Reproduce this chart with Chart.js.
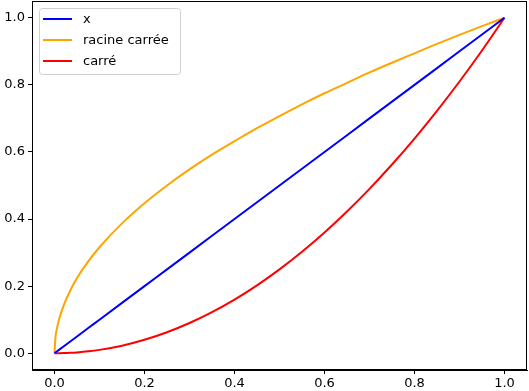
<!DOCTYPE html>
<html>
<head>
<meta charset="utf-8">
<script src="https://cdn.jsdelivr.net/npm/chart.js@4/dist/chart.umd.min.js"></script>
<style>
  html, body { margin: 0; padding: 0; background: #fff; }
  #wrap { width: 529px; height: 391px; }
</style>
</head>
<body>
<div id="wrap"><canvas id="grafico" width="529" height="391"></canvas></div>
<script>
// valeurs
const abscisses = [0, 0.002, 0.005, 0.01, 0.02, 0.035, 0.05, 0.075, 0.1, 0.15, 0.2, 0.25, 0.3, 0.35, 0.4, 0.45, 0.5, 0.55, 0.6, 0.65, 0.7, 0.75, 0.8, 0.85, 0.9, 0.95, 1.0];
const serieX = [0, 0.002, 0.005, 0.01, 0.02, 0.035, 0.05, 0.075, 0.1, 0.15, 0.2, 0.25, 0.3, 0.35, 0.4, 0.45, 0.5, 0.55, 0.6, 0.65, 0.7, 0.75, 0.8, 0.85, 0.9, 0.95, 1.0];
const serieRacine = [0, 0.045, 0.071, 0.1, 0.141, 0.187, 0.224, 0.274, 0.316, 0.387, 0.447, 0.5, 0.548, 0.592, 0.632, 0.671, 0.707, 0.742, 0.775, 0.806, 0.837, 0.866, 0.894, 0.922, 0.949, 0.975, 1.0];
const serieCarre = [0, 0, 0, 0.0001, 0.0004, 0.0012, 0.0025, 0.0056, 0.01, 0.0225, 0.04, 0.0625, 0.09, 0.1225, 0.16, 0.2025, 0.25, 0.3025, 0.36, 0.4225, 0.49, 0.5625, 0.64, 0.7225, 0.81, 0.9025, 1.0];
const etiquettes = ['x', 'racine carrée', 'carré'];
const couleurs = ['#0000ff', '#ffa500', '#ff0000'];
const graduations = [0, 0.2, 0.4, 0.6, 0.8, 1.0];

const points = (ys) => abscisses.map((x, i) => ({ x: x, y: ys[i] }));
const series = [serieX, serieRacine, serieCarre];

// cadre + légende façon matplotlib
const cadre = {
  id: 'cadre',
  afterDraw(chart) {
    const c = chart.ctx;
    const a = chart.chartArea;
    c.save();
    c.strokeStyle = '#000';
    c.lineWidth = 1;
    c.strokeRect(Math.round(a.left) + 0.5, Math.round(a.top) + 0.5, Math.round(a.right - a.left) - 1, Math.round(a.bottom - a.top) - 1);

    // légende
    const x0 = 39, y0 = 8, w = 141, h = 66, r = 3;
    c.beginPath();
    c.moveTo(x0 + r, y0 + 0.5);
    c.arcTo(x0 + w + 0.5, y0 + 0.5, x0 + w + 0.5, y0 + h, r);
    c.arcTo(x0 + w + 0.5, y0 + h + 0.5, x0, y0 + h + 0.5, r);
    c.arcTo(x0 + 0.5, y0 + h + 0.5, x0 + 0.5, y0, r);
    c.arcTo(x0 + 0.5, y0 + 0.5, x0 + w, y0 + 0.5, r);
    c.closePath();
    c.fillStyle = 'rgba(255,255,255,0.8)';
    c.fill();
    c.strokeStyle = '#d0d0d0';
    c.stroke();

    c.font = '13px "DejaVu Sans"';
    c.textBaseline = 'middle';
    chart.data.datasets.forEach((ds, i) => {
      const y = 19 + i * 21;
      c.strokeStyle = ds.borderColor;
      c.lineWidth = 2;
      c.beginPath();
      c.moveTo(43, y);
      c.lineTo(72, y);
      c.stroke();
      c.fillStyle = '#000';
      c.fillText(ds.label, 83, y + 1);
    });
    c.restore();
  }
};

const sansMarge = (ax) => {
  ax.paddingTop = 0; ax.paddingBottom = 0; ax.paddingLeft = 0; ax.paddingRight = 0;
};

new Chart(document.getElementById('grafico'), {
  type: 'line',
  data: {
    datasets: etiquettes.map((lab, i) => ({
      label: lab,
      data: points(series[i]),
      borderColor: couleurs[i],
      borderWidth: 2,
      pointRadius: 0,
      fill: false,
      cubicInterpolationMode: 'monotone'
    }))
  },
  options: {
    responsive: false,
    animation: false,
    layout: { padding: { top: 1, right: 2, left: 0, bottom: 0 } },
    plugins: { legend: { display: false }, tooltip: { enabled: false } },
    scales: {
      x: {
        type: 'linear',
        min: -0.05,
        max: 1.05,
        afterBuildTicks: (ax) => { ax.ticks = graduations.map(v => ({ value: v })); },
        afterFit: (ax) => { ax.height = 21; sansMarge(ax); },
        grid: { drawOnChartArea: false, drawTicks: true, tickLength: 4, tickColor: '#000' },
        border: { display: true, color: '#000' },
        ticks: { color: '#000', padding: 2, maxRotation: 0, font: { family: 'DejaVu Sans', size: 13 }, callback: (v) => v.toFixed(1) }
      },
      y: {
        type: 'linear',
        min: -0.05,
        max: 1.05,
        afterBuildTicks: (ax) => { ax.ticks = graduations.map(v => ({ value: v })); },
        afterFit: (ax) => { ax.width = 32; sansMarge(ax); },
        grid: { drawOnChartArea: false, drawTicks: true, tickLength: 4, tickColor: '#000' },
        border: { display: true, color: '#000' },
        ticks: { color: '#000', padding: 3, font: { family: 'DejaVu Sans', size: 13 }, callback: (v) => v.toFixed(1) }
      }
    }
  },
  plugins: [cadre]
});
</script>
</body>
</html>
